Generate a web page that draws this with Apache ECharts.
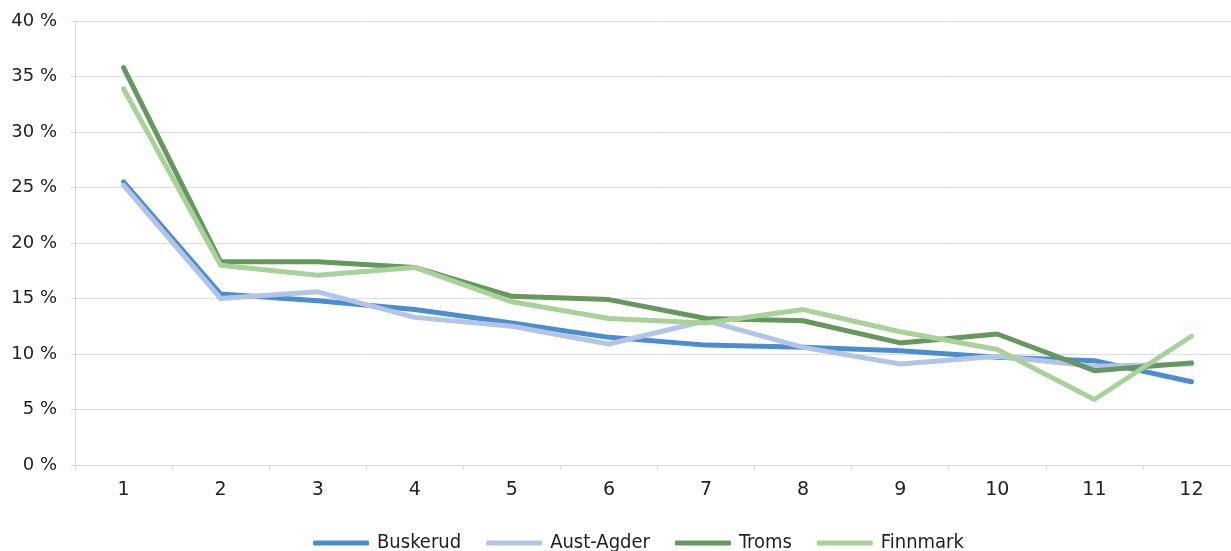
<!DOCTYPE html>
<html><head><meta charset="utf-8">
<script src="https://cdn.jsdelivr.net/npm/echarts@6/dist/echarts.min.js"></script>
<style>html,body{margin:0;padding:0;background:#fff;overflow:hidden;width:1231px;height:551px}#c{width:1240px;height:551px}</style>
</head><body><div id="c"></div>
<script>
const categories = ['1','2','3','4','5','6','7','8','9','10','11','12'];
const buskerud  = [25.5, 15.4, 14.8, 14.0, 12.8, 11.5, 10.8, 10.6, 10.3, 9.7, 9.4, 7.5];
const austAgder = [25.2, 15.0, 15.6, 13.3, 12.5, 10.9, 13.0, 10.6, 9.1, 9.8, 8.9, 9.1];
const troms     = [35.8, 18.3, 18.3, 17.8, 15.2, 14.9, 13.2, 13.0, 11.0, 11.8, 8.5, 9.2];
const finnmark  = [33.9, 18.0, 17.1, 17.8, 14.7, 13.2, 12.8, 14.0, 12.0, 10.4, 5.9, 11.6];
const seriesNames = ['Buskerud','Aust-Agder','Troms','Finnmark'];
const colors = ['#4a8ecf','#b3c5e6','#65985c','#a8d29a'];
const data = [buskerud, austAgder, troms, finnmark];

const chart = echarts.init(document.getElementById('c'), null, {renderer:'canvas'});
chart.setOption({
  animation:false,
  color: colors,
  grid:{left:75, right:0, top:21, bottom:86, containLabel:false},
  legend:{
    top:528, left:308, itemWidth:56, itemHeight:5, itemGap:25, icon:'roundRect',
    textStyle:{fontFamily:'"Liberation Sans Narrow","DejaVu Sans Condensed",sans-serif', fontSize:20, color:'#222', padding:[0,0,0,3]},
    data: seriesNames
  },
  xAxis:{
    type:'category', data:categories, boundaryGap:true,
    axisLine:{lineStyle:{color:'#d9d9d9', width:1}},
    axisTick:{show:true, length:5, lineStyle:{color:'#d9d9d9'}},
    axisLabel:{color:'#222', fontFamily:'"DejaVu Sans",sans-serif', fontSize:19, margin:16}
  },
  yAxis:{
    type:'value', min:0, max:40, interval:5,
    axisLine:{show:true, lineStyle:{color:'#d9d9d9'}},
    axisTick:{show:true, length:4, lineStyle:{color:'#d9d9d9'}},
    splitLine:{lineStyle:{color:'#dcdcdc', width:1}},
    axisLabel:{color:'#222', fontFamily:'"DejaVu Sans",sans-serif', fontSize:18, margin:18, formatter:'{value} %'}
  },
  series: seriesNames.map((n,i)=>({
    name:n, type:'line', data:data[i], showSymbol:false, symbol:'none',
    lineStyle:{width:5, color:colors[i], cap:'round', join:'round'},
    itemStyle:{color:colors[i]}
  }))
});
</script></body></html>
